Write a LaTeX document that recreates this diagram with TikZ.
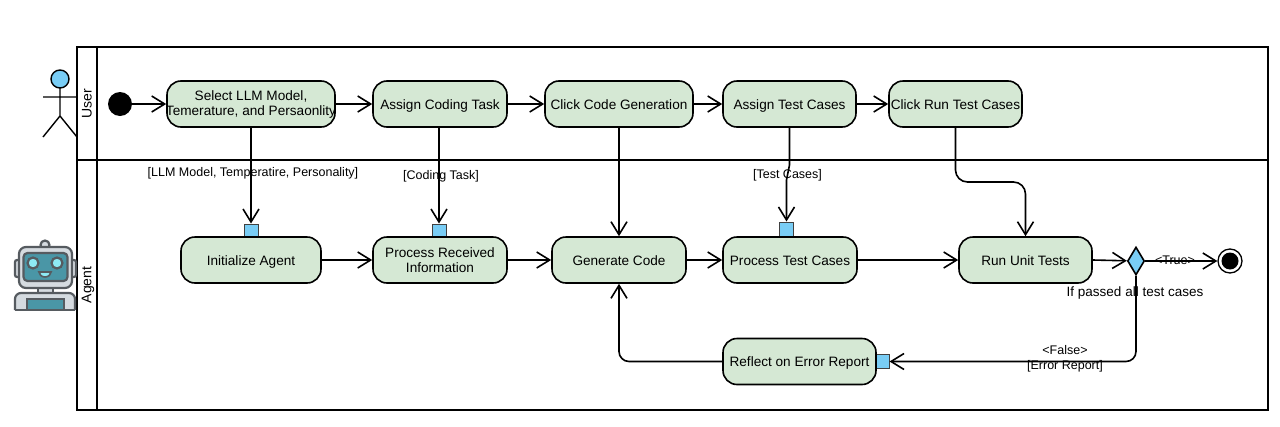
\documentclass[tikz,border=0pt]{standalone}
\usepackage{fontspec}
\setmainfont{Liberation Sans}
\usetikzlibrary{arrows.meta,shapes.geometric}
\definecolor{actgreen}{HTML}{D5E8D4}
\definecolor{pinblue}{HTML}{79CDF5}
\definecolor{botteal}{HTML}{4A96A6}
\definecolor{botgrey}{HTML}{565B60}
\definecolor{botpale}{HTML}{D5DBE0}
\definecolor{boteye}{HTML}{8EEAF5}
\tikzset{
  activity/.style={draw,line width=1.6pt,fill=actgreen,rounded corners=14pt,inner sep=0pt,minimum height=46pt,align=center,font=\fontsize{13.6}{16}\selectfont},
  single/.style={activity,text height=10pt,text depth=0pt},
  pin/.style={draw=black!75,line width=1pt,fill=pinblue,inner sep=0pt,minimum size=14pt},
  guard/.style={inner sep=0pt,align=center,font=\fontsize{12.5}{15}\selectfont},
  lanetext/.style={inner sep=0pt,rotate=90,font=\fontsize{14}{16}\selectfont},
  flow/.style={line width=1.6pt,-{Straight Barb[length=13pt,width=16pt,line width=1.6pt]}},
  frame/.style={line width=2.8pt},
  figure/.style={line width=1.4pt}
}
\begin{document}
\begin{tikzpicture}[x=1pt,y=-1pt]
\useasboundingbox (0,0) rectangle (1280,426);
% lanes
\draw[frame] (77,47) rectangle (1268,410);
\draw[frame] (97,47) -- (97,410);
\draw[frame] (77,160) -- (1268,160);
\node[lanetext] (laneuser) at (87,104) {User};
\node[lanetext] (laneagent) at (88,285) {Agent};
% user figure
\draw[figure,fill=pinblue] (60,79) circle (9);
\draw[figure] (60,88) -- (60,116) (43,97) -- (77,97) (43,137) -- (60,116) -- (77,137);
% agent figure
\begin{scope}[line width=2.2pt,draw=botgrey]
  \draw[fill=botpale] (45,245) circle (4.5);
  \draw[fill=botpale,rounded corners=2pt] (15,260) rectangle (20,277);
  \draw[fill=botpale,rounded corners=2pt] (71,260) rectangle (76,277);
  \draw[fill=botpale] (38,287) rectangle (53,293);
  \draw[fill=botpale,rounded corners=7pt] (19,247) rectangle (72,288);
  \draw[fill=botteal,rounded corners=4pt] (23.5,253) rectangle (67.5,281);
  \draw[fill=boteye] (33,263) circle (5.5);
  \draw[fill=boteye] (57,263) circle (5.5);
  \draw[fill=boteye,line width=1.6pt] (39,272) -- (51,272) arc (0:-180:6 and -5) -- cycle;
  \draw[fill=botpale,rounded corners=6pt] (15,310) -- (15,293) -- (75,293) -- (75,310);
  \draw[fill=botteal] (27,299) rectangle (64,310);
  \draw (15,310) -- (75,310);
\end{scope}
% pins
\node[pin] (pinllm) at (251,231) {};
\node[pin] (pintask) at (439,231) {};
\node[pin] (pintest) at (786.5,229) {};
\node[pin] (pinerror) at (882,361.5) {};
% activities of user
\fill (120,104) circle (12);
\coordinate (start) at (132,104);
\node[activity,minimum width=168pt] (select) at (251,104) {\makebox[168pt][c]{Select LLM Model,}\\[-1pt]\makebox[168pt][c]{Temerature, and Persaonlity}};
\node[single,minimum width=134pt] (assign) at (440,104) {Assign Coding Task};
\node[single,minimum width=148pt] (click) at (619,104) {Click Code Generation};
\node[single,minimum width=133pt] (cases) at (789.5,104) {Assign Test Cases};
\node[single,minimum width=133pt] (runcases) at (955.5,104) {Click Run Test Cases};
% activities of agent
\node[single,minimum width=140pt] (init) at (251,260) {Initialize Agent};
\node[activity,minimum width=134pt] (process) at (440,260) {Process Received\\[-1pt]Information};
\node[single,minimum width=134pt] (gencode) at (619,260) {Generate Code};
\node[single,minimum width=134pt] (ptest) at (790,260) {Process Test Cases};
\node[single,minimum width=133pt] (unit) at (1025.5,260) {Run Unit Tests};
\node[single,minimum width=153pt] (reflect) at (799.5,361.5) {Reflect on Error Report};
% decision and final
\node[draw,line width=1.6pt,fill=pinblue,diamond,aspect=0.6,inner sep=0pt,minimum width=17pt,minimum height=28pt] (check) at (1136,261) {};
\node[draw,line width=1.3pt,circle,inner sep=0pt,minimum size=24pt] (final) at (1230,261) {};
\fill (1230,261) circle (8.5);
% flows
\draw[flow] (start) -- (select);
\draw[flow] (select) -- (assign);
\draw[flow] (assign) -- (click);
\draw[flow] (click) -- (cases);
\draw[flow] (cases) -- (runcases);
\draw[flow] (select.south) -- (pinllm);
\draw[flow] (pintask |- assign.south) -- (pintask);
\draw[flow] (click.south) -- (gencode);
\draw[flow] (cases.south) -- (789.5,165) -- (786.5,180) -- (pintest);
\draw[flow,rounded corners=12pt] (runcases.south) -- (955.5,182) -- (1025.5,182) -- (unit);
\draw[flow] (init) -- (process);
\draw[flow] (process) -- (gencode);
\draw[flow] (gencode) -- (ptest);
\draw[flow] (ptest) -- (unit);
\draw[flow] (unit.east) -- (check);
\draw[flow] (check) -- (final);
\draw[flow,rounded corners=10pt] (check.south) |- (pinerror);
\draw[flow,rounded corners=10pt] (reflect.west) -| (gencode.south);
% guards
\node[guard] (lblllm) at (253,173) {[LLM Model, Temperatire, Personality]};
\node[guard] (lbltask) at (441,176) {[Coding Task]};
\node[guard] (lbltest) at (787.5,175) {[Test Cases]};
\node[guard] (lbltrue) at (1175,260) {<True>};
\node[guard] (lblfalse) at (1065,358.5) {<False>\\{}[Error Report]};
\node[guard,font=\fontsize{13.5}{16}\selectfont] (lblpass) at (1135,293) {If passed all test cases};
\end{tikzpicture}
\end{document}
